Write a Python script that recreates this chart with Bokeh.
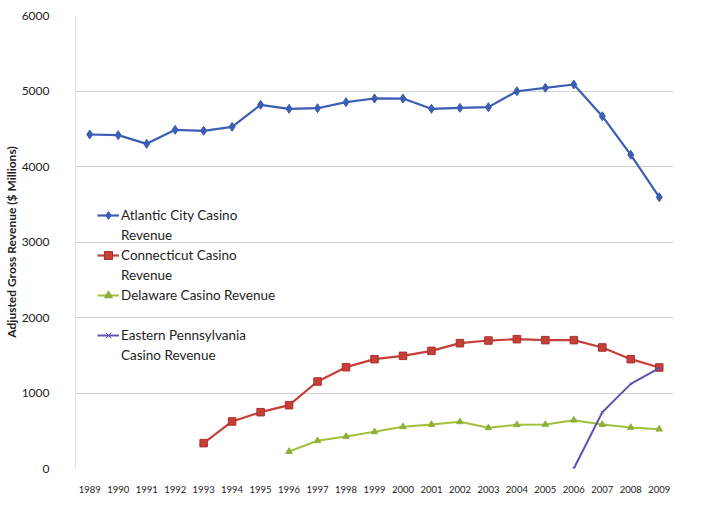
from bokeh.plotting import figure
from bokeh.models import ColumnDataSource, Legend, LegendItem, FixedTicker, Range1d
from bokeh.embed import file_html
from bokeh.resources import INLINE

years = list(range(1989, 2010))
atlantic = [4424, 4415, 4300, 4486, 4473, 4526, 4817, 4764, 4772, 4852,
            4901, 4900, 4764, 4777, 4786, 4997, 5042, 5086, 4666, 4155, 3593]
ct_years = list(range(1993, 2010))
connecticut = [336, 623, 746, 839, 1152, 1342, 1448, 1492, 1558, 1660,
               1695, 1713, 1700, 1700, 1603, 1448, 1338]
de_years = list(range(1996, 2010))
delaware = [225, 367, 424, 486, 552, 583, 618, 539, 579, 583, 640, 583, 543, 521]
pa_years = [2006, 2007, 2008, 2009]
pennsylvania = [0, 746, 1121, 1329]
y_ticks = [0, 1000, 2000, 3000, 4000, 5000, 6000]

FONT = "Lato"

p = figure(width=726, height=532, output_backend="svg", toolbar_location=None,
           x_range=Range1d(1988.5, 2009.5), y_range=Range1d(0, 6000),
           min_border_left=72, min_border_right=53, min_border_top=15,
           min_border_bottom=64)
p.outline_line_color = None
p.background_fill_color = "white"
p.border_fill_color = "white"

blue, red, green, purple = "#3C5DB4", "#C63F38", "#A2C03C", "#5D52B2"

s1 = ColumnDataSource(dict(x=years, y=atlantic))
s2 = ColumnDataSource(dict(x=ct_years, y=connecticut))
s3 = ColumnDataSource(dict(x=de_years, y=delaware))
s4 = ColumnDataSource(dict(x=pa_years, y=pennsylvania))

l1 = p.line("x", "y", source=s1, line_color=blue, line_width=2.2)
m1 = p.scatter("x", "y", source=s1, marker="diamond", size=9, fill_color=blue, line_color=blue)
l2 = p.line("x", "y", source=s2, line_color=red, line_width=2.2)
m2 = p.scatter("x", "y", source=s2, marker="square", size=7.5, fill_color=red, line_color="#A8302B")
l3 = p.line("x", "y", source=s3, line_color=green, line_width=2)
m3 = p.scatter("x", "y", source=s3, marker="triangle", size=6.5, fill_color="#8FAE3A", line_color="#8FAE3A")
l4 = p.line("x", "y", source=s4, line_color=purple, line_width=2)
m4 = p.scatter("x", "y", source=s4, marker="x", size=4, line_color=purple)

# empty, invisible renderer used for continuation lines of legend labels
blank = p.line(x=[], y=[], line_alpha=0)

p.xaxis.ticker = FixedTicker(ticks=years)
p.yaxis.ticker = FixedTicker(ticks=y_ticks)
p.xgrid.grid_line_color = None
p.ygrid.grid_line_color = "#D0D0D0"
p.ygrid.grid_line_width = 1

p.xaxis.axis_line_color = None
p.xaxis.major_tick_line_color = None
p.xaxis.minor_tick_line_color = None
p.xaxis.major_label_text_font = FONT
p.xaxis.major_label_text_font_size = "9.5px"
p.xaxis.major_label_text_color = "#222222"
p.xaxis.major_label_standoff = 11

p.yaxis.axis_line_color = "#E0E0E0"
p.yaxis.major_tick_line_color = None
p.yaxis.minor_tick_line_color = None
p.yaxis.major_label_text_font = FONT
p.yaxis.major_label_text_font_size = "12px"
p.yaxis.major_label_text_color = "#222222"
p.yaxis.major_label_standoff = 20
p.yaxis.axis_label = "Adjusted Gross Revenue ($ Millions)"
p.yaxis.axis_label_text_font = FONT
p.yaxis.axis_label_text_font_style = "bold"
p.yaxis.axis_label_text_font_size = "12px"
p.yaxis.axis_label_text_color = "#222222"
p.yaxis.axis_label_standoff = 0

legend = Legend(items=[
    LegendItem(label="Atlantic City Casino", renderers=[l1, m1]),
    LegendItem(label="Revenue", renderers=[blank]),
    LegendItem(label="Connecticut Casino", renderers=[l2, m2]),
    LegendItem(label="Revenue", renderers=[blank]),
    LegendItem(label="Delaware Casino Revenue", renderers=[l3, m3]),
    LegendItem(label=" ", renderers=[blank]),
    LegendItem(label="Eastern Pennsylvania", renderers=[l4, m4]),
    LegendItem(label="Casino Revenue", renderers=[blank]),
], location=(22, 103))
legend.background_fill_alpha = 0
legend.border_line_color = None
legend.label_text_font = FONT
legend.label_text_font_size = "13.5px"
legend.label_text_color = "#1E1E1E"
legend.glyph_width = 22
legend.glyph_height = 20
legend.label_height = 20
legend.label_standoff = 2
legend.spacing = 0
legend.padding = 6
legend.margin = 0
p.add_layout(legend, "center")

open("out.html", "w").write(file_html(p, INLINE))
